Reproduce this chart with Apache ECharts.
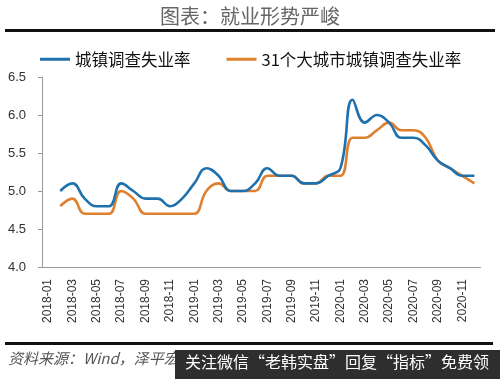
<!DOCTYPE html>
<html>
<head>
<meta charset="utf-8">
<script src="https://cdn.jsdelivr.net/npm/echarts@6/dist/echarts.min.js"></script>
<style>
html,body{margin:0;padding:0;background:#fff;}
#c{width:500px;height:379px;}
</style>
</head>
<body>
<div id="c"></div>
<script>
const categories = [
  '2018-01','2018-02','2018-03','2018-04','2018-05','2018-06','2018-07','2018-08','2018-09','2018-10','2018-11','2018-12',
  '2019-01','2019-02','2019-03','2019-04','2019-05','2019-06','2019-07','2019-08','2019-09','2019-10','2019-11','2019-12',
  '2020-01','2020-02','2020-03','2020-04','2020-05','2020-06','2020-07','2020-08','2020-09','2020-10','2020-11','2020-12'
];
const seriesNames = ['城镇调查失业率', '31个大城市城镇调查失业率'];
const urbanRate = [
  null, 5.0, 5.1, 4.9, 4.8, 4.8, 5.1, 5.0, 4.9, 4.9, 4.8, 4.9,
  5.1, 5.3, 5.2, 5.0, 5.0, 5.1, 5.3, 5.2, 5.2, 5.1, 5.1, 5.2,
  5.3, 6.2, 5.9, 6.0, 5.9, 5.7, 5.7, 5.6, 5.4, 5.3, 5.2, 5.2
];
const cityRate = [
  null, 4.8, 4.9, 4.7, 4.7, 4.7, 5.0, 4.9, 4.7, 4.7, 4.7, 4.7,
  4.7, 5.0, 5.1, 5.0, 5.0, 5.0, 5.2, 5.2, 5.2, 5.1, 5.1, 5.2,
  5.2, 5.7, 5.7, 5.8, 5.9, 5.8, 5.8, 5.7, 5.4, 5.3, 5.2, 5.1
];
const yMin = 4.0, yMax = 6.5, yStep = 0.5;
const titleText = '图表：就业形势严峻';
const sourceText = '资料来源：Wind，泽平宏观';
const watermarkText = '关注微信“老韩实盘”回复“指标”免费领';

const chart = echarts.init(document.getElementById('c'), null, {renderer: 'canvas'});
chart.setOption({
  animation: false,
  backgroundColor: '#fff',
  title: {
    text: titleText,
    left: 'center',
    top: 1,
    textStyle: {fontFamily: 'Noto Sans CJK SC', fontSize: 20, fontWeight: 'normal', color: '#666'}
  },
  legend: {
    top: 46,
    left: 35,
    itemWidth: 30,
    itemHeight: 3,
    itemGap: 36,
    icon: 'rect',
    textStyle: {fontFamily: 'Noto Sans CJK SC', fontSize: 16.5, color: '#111'},
    data: seriesNames
  },
  grid: {left: 42, right: 19.5, top: 77, bottom: 112, containLabel: false},
  xAxis: {
    type: 'category',
    data: categories,
    boundaryGap: true,
    axisLine: {lineStyle: {color: '#999', width: 1}},
    axisTick: {interval: 1, length: 5, lineStyle: {color: '#999'}},
    axisLabel: {interval: 1, rotate: 90, fontFamily: 'Liberation Sans', fontSize: 12, color: '#333', margin: 12}
  },
  yAxis: {
    type: 'value',
    min: yMin, max: yMax, interval: yStep,
    splitLine: {show: false},
    axisLine: {show: true, lineStyle: {color: '#999', width: 1}},
    axisTick: {show: true, inside: false, length: 4, lineStyle: {color: '#999'}},
    axisLabel: {formatter: v => v.toFixed(1), fontFamily: 'Liberation Sans', fontSize: 13, color: '#333', margin: 16}
  },
  series: [
    {
      name: seriesNames[0], type: 'line', data: urbanRate, smooth: 0.45, symbol: 'none',
      lineStyle: {width: 2.6, color: '#1F71AE'}, itemStyle: {color: '#1F71AE'}, z: 3
    },
    {
      name: seriesNames[1], type: 'line', data: cityRate, smooth: 0.45, symbol: 'none',
      lineStyle: {width: 2.6, color: '#DF802F'}, itemStyle: {color: '#DF802F'}, z: 2
    }
  ],
  graphic: [
    {type: 'rect', shape: {x: 5, y: 29, width: 490, height: 3}, style: {fill: '#111'}},
    {type: 'rect', shape: {x: 5, y: 342, width: 488, height: 3}, style: {fill: '#111'}},
    {type: 'text', left: 8, top: 351, style: {text: sourceText, fontFamily: 'Noto Sans CJK SC', fontStyle: 'italic', fontSize: 15, fill: '#555'}},
    {type: 'rect', shape: {x: 175, y: 350, width: 325, height: 29}, style: {fill: '#2e2e2e'}},
    {type: 'text', left: 185, top: 354, style: {text: watermarkText, fontFamily: 'Noto Sans CJK SC', fontSize: 16, fill: '#fff'}}
  ]
});
</script>
</body>
</html>
